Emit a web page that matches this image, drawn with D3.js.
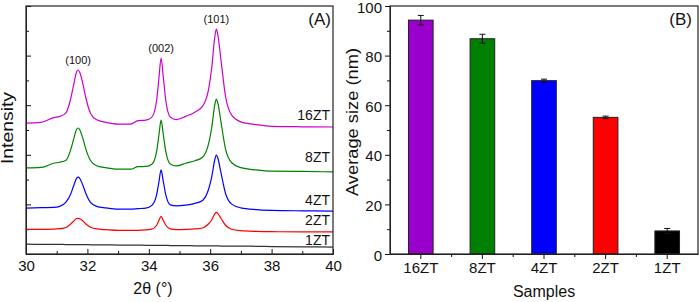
<!DOCTYPE html>
<html>
<head>
<meta charset="utf-8">
<script src="https://cdn.jsdelivr.net/npm/d3@7"></script>
<style>
  body { margin: 0; background: #fff; }
  svg { display: block; font-family: "Liberation Sans", Arial, sans-serif; }
</style>
</head>
<body>
<div id="chart"></div>
<script>
// XRD patterns (panel A), intensity in arbitrary units
var twoTheta = [30, 30.5, 30.9, 31.1, 31.3, 31.45, 31.55, 31.65, 31.7, 31.75, 31.85, 31.95, 32.1, 32.3, 32.6,
  33.0, 33.4, 33.65, 33.9, 34.1, 34.25, 34.33, 34.4, 34.47, 34.55, 34.7, 34.9, 35.2, 35.5, 35.75, 35.95,
  36.05, 36.15, 36.2, 36.25, 36.35, 36.5, 36.7, 37.0, 37.5, 38, 39, 40];
var int16ZT = [5.28, 5.31, 5.50, 5.55, 5.69, 6.23, 6.81, 7.35, 7.42, 7.33, 6.88, 6.29, 5.68, 5.41, 5.31,
  5.24, 5.24, 5.38, 5.40, 5.52, 6.15, 7.09, 7.90, 7.15, 6.23, 5.52, 5.42, 5.55, 5.72, 5.95, 6.66,
  7.51, 8.76, 9.07, 8.84, 7.83, 6.35, 5.60, 5.33, 5.22, 5.15, 5.13, 5.12];
var int8ZT = [3.47, 3.49, 3.66, 3.70, 3.78, 4.18, 4.62, 5.03, 5.08, 5.01, 4.67, 4.23, 3.77, 3.56, 3.48,
  3.42, 3.42, 3.52, 3.53, 3.62, 4.10, 4.80, 5.40, 4.84, 4.16, 3.63, 3.55, 3.66, 3.76, 3.90, 4.46,
  5.10, 6.02, 6.25, 6.08, 5.33, 4.23, 3.68, 3.48, 3.39, 3.34, 3.33, 3.31];
var int4ZT = [1.85, 1.87, 1.88, 1.92, 2.09, 2.40, 2.74, 3.06, 3.10, 3.05, 2.78, 2.44, 2.08, 1.92, 1.86,
  1.81, 1.81, 1.83, 1.85, 1.96, 2.36, 2.91, 3.39, 2.94, 2.40, 1.98, 1.94, 1.97, 2.04, 2.16, 2.62,
  3.11, 3.81, 3.99, 3.86, 3.28, 2.44, 2.01, 1.86, 1.79, 1.76, 1.74, 1.73];
var int2ZT = [0.99, 0.99, 1.00, 1.02, 1.07, 1.20, 1.32, 1.43, 1.44, 1.42, 1.34, 1.21, 1.08, 1.01, 0.98,
  0.95, 0.95, 0.95, 0.97, 1.00, 1.15, 1.35, 1.52, 1.36, 1.17, 1.01, 0.98, 0.99, 1.01, 1.05, 1.22,
  1.38, 1.62, 1.68, 1.63, 1.44, 1.16, 1.00, 0.94, 0.91, 0.90, 0.89, 0.89];
var int1ZT = [0.40, 0.39, 0.39, 0.39, 0.38, 0.38, 0.38, 0.38, 0.38, 0.38, 0.38, 0.38, 0.37, 0.37, 0.37,
  0.36, 0.36, 0.36, 0.35, 0.35, 0.35, 0.35, 0.35, 0.35, 0.35, 0.34, 0.34, 0.34, 0.33, 0.33, 0.33,
  0.33, 0.33, 0.33, 0.33, 0.32, 0.32, 0.32, 0.32, 0.31, 0.30, 0.29, 0.28];

var patternNames = ["16ZT", "8ZT", "4ZT", "2ZT", "1ZT"];
var patterns = [int16ZT, int8ZT, int4ZT, int2ZT, int1ZT];
var peakNames = ["(100)", "(002)", "(101)"];
var peakTheta = [31.7, 34.4, 36.2];
var xTicksA = [30, 32, 34, 36, 38, 40];

// average crystallite size (panel B)
var samples = ["16ZT", "8ZT", "4ZT", "2ZT", "1ZT"];
var avgSize = [94.3, 86.8, 69.9, 55.1, 9.3];
var sizeErr = [1.9, 1.8, 0.6, 0.5, 1.0];
var yTicksB = [0, 20, 40, 60, 80, 100];

var lineColors = ["#cc00cc", "#008000", "#0000ff", "#ff0000", "#333333"];
var barColors = ["#9900cc", "#008000", "#0000ff", "#ff0000", "#000000"];
var labelLift = [7, 10, 6, 7, 2]; // px above the curve end

var W = 699, H = 302;
var svg = d3.select("#chart").append("svg").attr("width", W).attr("height", H);

// ---------- panel A ----------
var a = { left: 26, right: 333, top: 6, bottom: 254 };
var xA = d3.scaleLinear().domain([30, 40]).range([a.left, a.right]);
var yA = d3.scaleLinear().domain([0, 10]).range([a.bottom, a.top]);

var gA = svg.append("g");

// minor + major ticks, all pointing inside
gA.append("g").attr("transform", "translate(0," + a.bottom + ")")
  .call(d3.axisBottom(xA).tickValues(d3.range(31, 40, 2)).tickSizeInner(-3).tickSizeOuter(0).tickFormat(""));
gA.append("g").attr("transform", "translate(0," + a.bottom + ")")
  .call(d3.axisBottom(xA).tickValues(xTicksA).tickSizeInner(-5).tickSizeOuter(0).tickPadding(6).tickFormat(d3.format("d")));
gA.append("g").attr("transform", "translate(" + a.left + ",0)")
  .call(d3.axisLeft(yA).tickValues(d3.range(1, 10, 2)).tickSizeInner(-3).tickSizeOuter(0).tickFormat(""));
gA.append("g").attr("transform", "translate(" + a.left + ",0)")
  .call(d3.axisLeft(yA).tickValues(d3.range(0, 11, 2)).tickSizeInner(-5).tickSizeOuter(0).tickFormat(""));

var line = d3.line()
  .x(function(d, i) { return xA(twoTheta[i]); })
  .y(function(d) { return yA(d); })
  .curve(d3.curveMonotoneX);

patterns.forEach(function(p, k) {
  gA.append("path")
    .attr("d", line(p))
    .attr("fill", "none")
    .attr("stroke", lineColors[k])
    .attr("stroke-width", 1.2);
  gA.append("text")
    .attr("x", xA(40) - 3)
    .attr("y", yA(p[p.length - 1]) - labelLift[k])
    .attr("text-anchor", "end")
    .attr("font-size", 14)
    .attr("fill", "#111")
    .text(patternNames[k]);
});

// hkl labels above the top pattern
peakNames.forEach(function(n, k) {
  var idx = twoTheta.indexOf(peakTheta[k]);
  gA.append("text")
    .attr("x", xA(peakTheta[k]))
    .attr("y", yA(int16ZT[idx]) - 6)
    .attr("text-anchor", "middle")
    .attr("font-size", 11)
    .attr("fill", "#111")
    .text(n);
});

gA.append("rect")
  .attr("x", a.left).attr("y", a.top)
  .attr("width", a.right - a.left).attr("height", a.bottom - a.top)
  .attr("fill", "none").attr("stroke", "#222").attr("stroke-width", 1.2);

gA.append("text").attr("x", a.right - 2).attr("y", 25).attr("text-anchor", "end")
  .attr("font-size", 17).attr("fill", "#111").text("(A)");
gA.append("text").attr("x", 153).attr("y", 294).attr("text-anchor", "middle")
  .attr("font-size", 16).attr("fill", "#111").text("2θ (°)");
gA.append("text").attr("transform", "translate(13,128) rotate(-90)")
  .attr("text-anchor", "middle").attr("font-size", 16).attr("fill", "#111")
  .attr("textLength", 72).attr("lengthAdjust", "spacingAndGlyphs")
  .text("Intensity");

// ---------- panel B ----------
var b = { left: 390, right: 698, top: 6, bottom: 254 };
var xB = d3.scaleBand().domain(samples).range([b.left, b.right]).paddingInner(0.6).paddingOuter(0.3);
var yB = d3.scaleLinear().domain([0, 100]).range([b.bottom, b.top]);

var gB = svg.append("g");

gB.append("g").attr("transform", "translate(" + b.left + ",0)")
  .call(d3.axisLeft(yB).tickValues(d3.range(10, 100, 20)).tickSizeInner(3).tickSizeOuter(0).tickFormat(""));
gB.append("g").attr("transform", "translate(" + b.left + ",0)")
  .attr("class", "ylab")
  .call(d3.axisLeft(yB).tickValues(yTicksB).tickSizeInner(5).tickSizeOuter(0).tickPadding(3));
gB.append("g").attr("transform", "translate(0," + b.bottom + ")")
  .call(d3.axisBottom(xB).tickSizeInner(5).tickSizeOuter(0).tickPadding(3));

// minor ticks on the category boundaries
gB.selectAll(".minorx").data(samples.slice(1)).enter().append("line")
  .attr("x1", function(d) { return xB(d) + xB.bandwidth() / 2 - xB.step() / 2; })
  .attr("x2", function(d) { return xB(d) + xB.bandwidth() / 2 - xB.step() / 2; })
  .attr("y1", b.bottom).attr("y2", b.bottom + 3)
  .attr("stroke", "#111");

gB.selectAll(".bar").data(samples).enter().append("rect")
  .attr("x", function(d) { return xB(d); })
  .attr("y", function(d, i) { return yB(avgSize[i]); })
  .attr("width", xB.bandwidth())
  .attr("height", function(d, i) { return yB(0) - yB(avgSize[i]); })
  .attr("fill", function(d, i) { return barColors[i]; })
  .attr("stroke", "#222").attr("stroke-width", 1);

// error bars
var eb = gB.selectAll(".err").data(samples).enter().append("g").attr("stroke", "#111").attr("stroke-width", 1);
eb.append("line")
  .attr("x1", function(d) { return xB(d) + xB.bandwidth() / 2; })
  .attr("x2", function(d) { return xB(d) + xB.bandwidth() / 2; })
  .attr("y1", function(d, i) { return yB(avgSize[i] + sizeErr[i]); })
  .attr("y2", function(d, i) { return yB(avgSize[i] - sizeErr[i]); });
[1, -1].forEach(function(s) {
  eb.append("line")
    .attr("x1", function(d) { return xB(d) + xB.bandwidth() / 2 - 3; })
    .attr("x2", function(d) { return xB(d) + xB.bandwidth() / 2 + 3; })
    .attr("y1", function(d, i) { return yB(avgSize[i] + s * sizeErr[i]); })
    .attr("y2", function(d, i) { return yB(avgSize[i] + s * sizeErr[i]); });
});

gB.append("rect")
  .attr("x", b.left).attr("y", b.top)
  .attr("width", b.right - b.left).attr("height", b.bottom - b.top)
  .attr("fill", "none").attr("stroke", "#222").attr("stroke-width", 1.2);

gB.append("text").attr("x", b.right - 6).attr("y", 25).attr("text-anchor", "end")
  .attr("font-size", 17).attr("fill", "#111").text("(B)");
gB.append("text").attr("x", (b.left + b.right) / 2).attr("y", 297).attr("text-anchor", "middle")
  .attr("font-size", 16).attr("fill", "#111").text("Samples");
gB.append("text").attr("transform", "translate(358,122) rotate(-90)")
  .attr("text-anchor", "middle").attr("font-size", 16).attr("fill", "#111")
  .attr("textLength", 148).attr("lengthAdjust", "spacingAndGlyphs")
  .text("Average size (nm)");

// common axis styling
svg.selectAll(".tick text").attr("font-size", 15).attr("fill", "#111")
  .attr("font-family", "Liberation Sans, Arial, sans-serif");
// keep the top y label inside the picture
svg.selectAll(".ylab .tick text").attr("dy", "0.4em");
svg.selectAll(".tick line").attr("stroke", "#111");
svg.selectAll(".domain").attr("stroke", "#222");
</script>
</body>
</html>
